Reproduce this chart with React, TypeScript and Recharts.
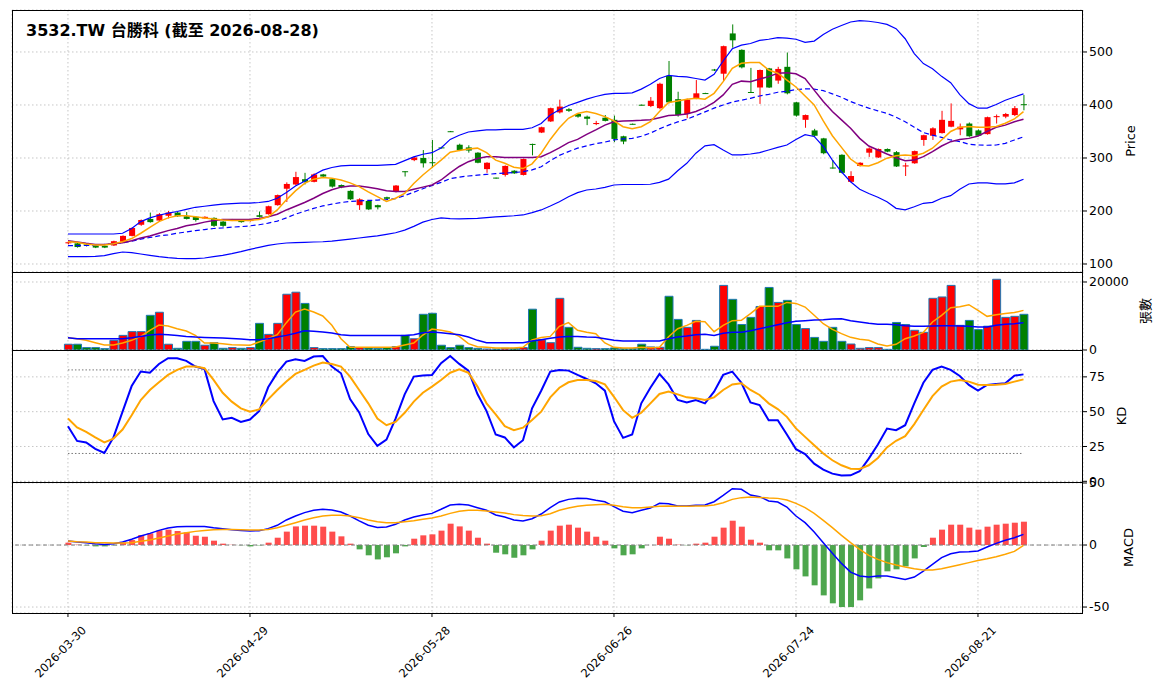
import React from "react"
import { Bar, Cell, CartesianGrid, ComposedChart, Line, ReferenceLine, XAxis, YAxis } from "recharts"

// trading days (TW calendar, holidays skipped)
const DATES = [
  "2026-03-30", "2026-03-31",
  "2026-04-01", "2026-04-02", "2026-04-07", "2026-04-08", "2026-04-09", "2026-04-10",
  "2026-04-13", "2026-04-14", "2026-04-15", "2026-04-16", "2026-04-17",
  "2026-04-20", "2026-04-21", "2026-04-22", "2026-04-23", "2026-04-24",
  "2026-04-27", "2026-04-28", "2026-04-29", "2026-04-30",
  "2026-05-04", "2026-05-05", "2026-05-06", "2026-05-07", "2026-05-08",
  "2026-05-11", "2026-05-12", "2026-05-13", "2026-05-14", "2026-05-15",
  "2026-05-18", "2026-05-19", "2026-05-20", "2026-05-21", "2026-05-22",
  "2026-05-25", "2026-05-26", "2026-05-27", "2026-05-28", "2026-05-29",
  "2026-06-01", "2026-06-02", "2026-06-03", "2026-06-04", "2026-06-05",
  "2026-06-08", "2026-06-09", "2026-06-10", "2026-06-11", "2026-06-12",
  "2026-06-15", "2026-06-16", "2026-06-17", "2026-06-18",
  "2026-06-22", "2026-06-23", "2026-06-24", "2026-06-25", "2026-06-26",
  "2026-06-29", "2026-06-30", "2026-07-01", "2026-07-02", "2026-07-03",
  "2026-07-06", "2026-07-07", "2026-07-08", "2026-07-09", "2026-07-10",
  "2026-07-13", "2026-07-14", "2026-07-15", "2026-07-16", "2026-07-17",
  "2026-07-20", "2026-07-21", "2026-07-22", "2026-07-23", "2026-07-24",
  "2026-07-27", "2026-07-28", "2026-07-29", "2026-07-30", "2026-07-31",
  "2026-08-03", "2026-08-04", "2026-08-05", "2026-08-06", "2026-08-07",
  "2026-08-10", "2026-08-11", "2026-08-12", "2026-08-13", "2026-08-14",
  "2026-08-17", "2026-08-18", "2026-08-19", "2026-08-20", "2026-08-21",
  "2026-08-24", "2026-08-25", "2026-08-26", "2026-08-27", "2026-08-28",
]

const OPEN = [
  139, 139, 137, 135, 134.5, 135, 142, 153, 174, 185,
  182, 191, 197, 190, 189, 186, 187, 180, 182, 183,
  181, 192, 194, 211, 242, 250, 260, 255, 269, 260,
  249, 238, 211, 219, 211, 226, 236, 275, 296, 300,
  292, 320, 350.5, 325, 320, 310, 279, 263, 268, 276,
  268, 326.5, 348, 369, 386, 392, 383, 378, 364, 376,
  372, 341, 364.5, 400.5, 398, 394, 455, 411, 383, 413,
  422.5, 467, 459, 535, 504, 424.5, 433, 469, 446, 472,
  405, 372, 352, 337, 282, 306, 255, 285, 310, 301,
  317, 311, 284, 290, 334, 342, 347, 359, 354, 365,
  352, 345, 377, 378, 381, 401.5,
]
const HIGH = [
  143, 140, 138, 136, 135, 144, 154, 169, 184, 197,
  196, 200, 198, 198, 190, 190, 188, 181, 185, 184,
  184, 199, 210, 231, 254, 274, 272, 271, 270, 261,
  250, 239, 224, 220, 212, 227, 249, 275, 303, 315,
  334, 321, 351, 327, 324, 311, 292, 263, 286, 277,
  299, 327, 359, 395, 410, 394, 384, 380, 370, 381,
  380, 342, 365, 401, 415, 442, 483, 425, 412, 447,
  423, 468, 512, 552, 505, 470, 467, 470, 472, 499,
  406, 382, 355, 338, 296, 307, 275, 292, 320, 318,
  318, 313, 291, 314, 344, 358, 389, 403, 365, 367,
  354, 378, 382, 385, 398, 419,
]
const LOW = [
  137, 131, 133, 130, 130, 134, 141, 152, 172, 178,
  180, 186, 189, 184, 180, 185, 170, 170, 181, 178,
  180, 188, 193, 210, 217, 248, 250, 254, 264, 244,
  243, 221, 202, 202, 203, 222, 235, 265, 294, 282,
  281, 318, 349, 313, 310, 290, 272, 261, 265, 270,
  267, 305, 347, 368, 384, 387, 376, 362, 362, 369,
  330, 326, 363, 399, 396, 392, 403, 378, 375, 411,
  421, 464, 445, 508, 469, 423, 402, 432, 440, 420,
  378, 357, 340, 307, 280, 271, 254, 284, 302, 300,
  311, 283, 266, 289, 323, 334, 346, 358, 343, 340,
  341, 344, 365, 375, 379, 390,
]
const CLOSE = [
  141, 132, 135, 131, 131, 143, 153, 168, 183, 179,
  194, 197, 190, 185, 183, 189, 172, 172, 184, 179,
  183, 189, 209, 230, 251, 264, 255, 269, 265, 246,
  245, 222, 222, 203, 207, 223, 248, 274, 301, 290,
  291, 319, 349.5, 315, 314, 291, 291, 262, 285, 271,
  298, 326, 358, 394, 397, 389, 378, 374, 366, 370,
  336, 331, 364, 400, 408, 440, 405, 381, 410, 422,
  422, 465, 511, 522, 471, 424, 466, 433, 468, 422,
  380, 381, 342, 309, 281, 272, 266, 291, 318, 317,
  312, 284, 286, 313, 343, 356, 372, 370, 359, 341,
  342, 377, 379, 383, 394, 400.5,
]

const MA5 = [
  142, 141, 137.7, 136, 136, 138, 142, 148, 158, 169,
  180, 187, 191, 191, 189, 187, 185, 183, 182, 182,
  182, 184, 189, 202, 221, 238, 252, 260, 263, 262,
  258.5, 253, 246, 236, 227, 218, 224, 233, 252, 268,
  282, 296, 311, 314, 317, 318.6, 310, 296, 290, 282.5,
  280, 289, 309, 335, 357, 375, 384, 387.6, 384, 378,
  370, 359, 355, 359, 368.5, 387.6, 404.7, 407.5, 410.7, 412.6,
  411, 422, 444, 469, 478.6, 480, 480, 466, 460, 447,
  434, 417, 400, 370, 342, 320, 298, 286, 285, 291,
  299.6, 304.4, 305.7, 304.4, 309, 318.5, 334, 350, 358, 359.6,
  358, 358, 359.6, 365.5, 373.6, 387.6,
]
const MA10 = [
  144, 141.5, 139, 137, 137, 138, 140, 144, 149, 153,
  158, 163, 167, 172, 175, 179, 182, 184, 184, 184,
  184, 186, 189, 194, 202, 209, 216, 224, 233, 240,
  245, 247, 247, 245, 242, 238, 237, 237, 241, 245,
  249, 258.5, 272, 284, 293, 299, 302.5, 302.5, 301, 301,
  301, 301, 302.5, 310, 319, 329, 335, 344.7, 353, 362,
  368.5, 370, 370.4, 371, 372, 376, 380, 381, 383, 387.6,
  395, 405, 419, 439, 445, 444, 449, 453.5, 460, 461,
  459, 450, 428, 406.6, 387.6, 372, 356, 337, 322.6, 315,
  307.5, 300.6, 295, 296, 302.5, 312, 322.6, 330.8, 335, 337,
  341.5, 350, 358, 362, 368.5, 373,
]
const BB_MID = [
  134.5, 134.5, 135, 136, 137, 138.5, 140, 143, 147, 150,
  153, 155, 158, 160.5, 163, 165, 167, 168, 169.5, 170.5,
  172, 174, 177, 181, 187, 194, 199.5, 205, 209.5, 213,
  216, 218, 219, 220, 220.5, 221.5, 223.5, 229, 235.5, 242,
  248, 254, 261, 264, 266, 267.5, 269, 270.5, 271.5, 272.5,
  274, 277.5, 283.5, 295, 305, 312, 318.6, 323, 327, 330,
  334, 336, 337, 341, 347, 355, 362, 368, 373, 380,
  387, 394, 400, 405.5, 409, 412.6, 417, 420, 424, 426,
  429, 430.5, 430, 427, 421, 414.5, 406.6, 400, 394, 389,
  384, 377, 368.5, 358, 348, 343, 339, 334, 331, 326,
  324.5, 324, 324.5, 327.7, 334, 340,
]
const BB_UP = [
  156.6, 156.6, 156.6, 156.6, 156.6, 156.6, 158, 167, 180, 187,
  192, 196, 199, 203, 207, 209, 211, 213, 214, 215,
  215, 216, 218, 224, 235, 247, 256, 268, 277, 282,
  285, 286, 286, 286, 286, 287, 288, 295, 302, 307,
  310, 319, 335, 343, 349, 351, 353, 353, 354, 354,
  354, 357, 365, 381, 391, 399, 405, 411, 416, 420,
  422, 422, 423, 430, 439, 450, 456, 454, 453, 450,
  447, 458, 483, 506, 513, 516, 522, 524, 527, 526,
  524, 518, 520.6, 533, 543, 550, 556.6, 559, 558, 555.6,
  552, 544, 525, 497, 478, 468.5, 454, 442, 419.5, 402.5,
  394, 394, 401, 409, 415, 421,
]
const BB_LOW = [
  113.8, 113.8, 113.8, 114.2, 115.7, 119.5, 122.6, 121.4, 118.9, 116.4,
  113.8, 112, 110.7, 110, 110, 111.3, 113.8, 116.4, 119.5, 123.3,
  127.7, 131.4, 135.2, 137.7, 139.6, 140.2, 140.9, 141.5, 142, 143,
  145, 147, 149, 151, 153, 156, 159, 164, 171, 179,
  184, 187, 185.5, 185, 185.5, 186, 187.5, 189, 190, 191,
  192.5, 197, 202, 209.4, 217.5, 227, 234.7, 239.6, 241.5, 244.7,
  249, 250, 250, 250, 250.5, 254, 260, 276, 290, 309,
  323, 325, 315, 305.7, 305.7, 307.5, 310, 315, 320, 324.5,
  335, 344, 340.6, 321.7, 296, 274, 255, 241, 233, 226,
  217.5, 205, 202, 208, 214.5, 216.4, 224, 229, 241, 251,
  253, 253, 251, 251, 253, 260,
]

const VOLUME = [
  1700, 1700, 700, 700, 400, 2840, 4300, 5400, 5400, 10200,
  11100, 1700, 500, 2550, 2550, 1400, 2150, 500, 700, 500,
  700, 7840, 4600, 7840, 16400, 17000, 13700, 700, 400, 400,
  400, 1000, 700, 600, 500, 700, 1000, 4300, 3300, 10500,
  10800, 1400, 700, 1400, 700, 500, 300, 300, 500, 500,
  700, 12000, 3000, 2150, 15200, 6660, 800, 500, 400, 400,
  600, 400, 400, 1700, 900, 800, 15800, 9000, 6660, 8700,
  200, 1100, 19000, 14900, 7500, 9600, 12800, 18400, 14000, 14600,
  7500, 6300, 3700, 2550, 6660, 2550, 1760, 500, 700, 700,
  200, 8100, 7500, 5800, 5200, 15200, 15600, 19000, 7250, 8700,
  6000, 7000, 20800, 9600, 9900, 10500,
]
const VOL_MA5 = [
  3600, 3300, 2840, 2160, 1470, 1470, 2060, 2840, 4000, 5800,
  7350, 7060, 6270, 5590, 4310, 2060, 2060, 1860, 1570, 1470,
  1370, 2350, 3330, 4500, 8040, 11170, 12050, 11170, 10000, 7250,
  3330, 780, 780, 780, 780, 780, 880, 1470, 2060, 4400,
  6170, 5780, 5300, 4000, 1860, 980, 780, 590, 590, 590,
  780, 2940, 3650, 4000, 6960, 8040, 5780, 5200, 4800, 2060,
  780, 590, 590, 780, 690, 780, 3900, 6270, 7250, 8430,
  8330, 5400, 7250, 8620, 8720, 10700, 12840, 12840, 12840, 14000,
  13700, 12640, 10200, 7740, 6080, 4800, 3720, 3140, 2840, 1760,
  1180, 1670, 3330, 4100, 5200, 8230, 10200, 12450, 12740, 13330,
  11660, 9900, 10400, 10700, 11000, 11660,
]
const VOL_MA20 = [
  3600, 3330, 3330, 3330, 3330, 3330, 3330, 3600, 4000, 4400,
  4600, 4500, 4300, 4000, 3800, 3700, 3600, 3500, 3400, 3230,
  3040, 3040, 3330, 3800, 4300, 4900, 5680, 5500, 5300, 5000,
  4500, 4300, 4300, 4300, 4300, 4300, 4300, 4300, 4500, 5100,
  5300, 5100, 4800, 4500, 3800, 2840, 2160, 2160, 2160, 2160,
  2160, 2650, 3040, 3430, 3800, 4000, 4000, 3800, 3720, 3330,
  2840, 2650, 2650, 2650, 2650, 2650, 3330, 3800, 4100, 4500,
  4600, 4300, 4900, 5200, 5200, 5680, 6270, 6860, 7450, 8040,
  8430, 8620, 8820, 8920, 9100, 9200, 8620, 8230, 7840, 7550,
  7550, 7450, 7150, 6960, 6960, 7060, 7150, 7150, 7060, 6960,
  6760, 6760, 7250, 7550, 7740, 8040,
]

const K_LINE = [
  39.6, 29, 27.9, 23.3, 20.4, 31.5, 50, 68.4, 78.8, 78,
  84.3, 88.4, 88.4, 86.5, 82.4, 80.7, 57.6, 44.4, 45.6, 42.7,
  44.4, 50.4, 67.5, 78, 86, 87.7, 86.5, 89.6, 90, 82.4,
  77.6, 59, 49.5, 33.9, 25.5, 30, 45, 62.4, 75.2, 75.9,
  76.4, 84.8, 90, 84.3, 79.5, 62.7, 50.4, 33.6, 31.5, 24.3,
  29.5, 52.4, 65, 78.8, 80, 79.5, 76.4, 73.5, 70.4, 65.1,
  43.2, 31.2, 33.6, 56, 67.2, 77.1, 69.6, 58.4, 56.7, 58.4,
  56, 64.4, 76.4, 78.8, 70.8, 56.7, 54.8, 43.9, 43.9, 33.6,
  23.1, 19.5, 12.7, 8.4, 5.5, 4.1, 4.3, 7.2, 16.3, 26.4,
  37.9, 36.7, 40.3, 56, 70.8, 80, 82.4, 80, 75.6, 69.2,
  65.1, 69.2, 69.9, 70.4, 75.9, 76.8,
]
const D_LINE = [
  45.1, 38.7, 35.5, 31.5, 27.9, 30.7, 37.2, 47.5, 58.4, 65.6,
  71.1, 76.4, 80, 82.4, 82.4, 81.2, 72.8, 63.6, 57.2, 52.4,
  50, 51.6, 58.8, 65.6, 71.6, 77.1, 80, 83.1, 85.3, 84.3,
  82.4, 75.2, 65.6, 56, 45.1, 40.3, 42.7, 49.2, 57.2, 63.6,
  68, 72.8, 78, 80.4, 78, 68, 56, 48, 39.6, 36.7,
  38.5, 44, 50, 60.3, 67.2, 71.1, 72.8, 72.8, 72, 69.6,
  60.7, 51.1, 45.6, 49.2, 56, 62.7, 64.4, 62.4, 60.3, 59.6,
  58.4, 60.3, 65.6, 69.6, 70.4, 65.6, 62, 56, 51.9, 46.3,
  38, 31.9, 25.9, 19.9, 15.1, 11.5, 9.1, 8.9, 11.5, 16.8,
  24.3, 29.1, 32.4, 41.1, 51.2, 61.2, 68, 71.6, 72.8, 71.6,
  69.4, 69.2, 69.4, 69.9, 71.6, 73.2,
]

const DIF = [
  3.2, 2.4, 1.9, 1.1, 0.5, 1.1, 2.4, 4.6, 7.3, 9.4,
  11.8, 13.7, 14.8, 15, 15, 15, 14, 13.2, 12.4, 11.8,
  11.3, 11.6, 13.2, 15.9, 20.2, 23.4, 26.1, 28, 28.8, 28.2,
  26.6, 23.4, 19.4, 15.9, 14.2, 14.5, 16.7, 20.2, 22.6, 24.2,
  25.5, 28.8, 32.3, 32.8, 32.3, 30.1, 28, 24.2, 22.6, 20.2,
  19.4, 21.2, 25, 30.1, 34.7, 36.8, 37.6, 37.4, 36, 34.9,
  30.9, 27.2, 26.1, 28, 29.8, 33.6, 33.3, 31.5, 31.5, 32,
  32.3, 34.9, 40, 45.4, 44.9, 40.3, 39, 35.5, 34.7, 30.6,
  23.4, 18, 10.5, 1.9, -6.7, -14.8, -21.8, -25, -25.8, -25,
  -25, -26.3, -27.7, -25.8, -21, -15.6, -10.2, -7, -5.6, -5.4,
  -4.8, -1.6, 1.3, 3.8, 5.9, 8.6,
]
const DEA = [
  3.2, 2.7, 2.4, 1.9, 1.9, 1.6, 1.6, 1.9, 3, 4,
  5.6, 7.3, 8.9, 9.9, 11, 11.8, 12.4, 12.6, 12.6, 12.4,
  12.1, 12.1, 12.6, 14, 15.9, 18, 20.2, 22, 23.4, 23.9,
  23.9, 23.4, 22, 20.2, 18.8, 18, 18, 18.8, 19.6, 20.7,
  21.8, 23.4, 25.5, 27.2, 28, 28, 27.4, 26.6, 25.8, 24.5,
  23.7, 23.4, 23.6, 25.2, 28, 29.8, 31.2, 32, 32.5, 32.8,
  32, 30.9, 30.1, 30.1, 30.6, 31.2, 31.5, 31.2, 31.2, 31.5,
  31.5, 32.3, 34.1, 36.8, 38.2, 38.7, 38.4, 37.9, 37.6, 36.3,
  33.6, 30.1, 25.5, 19.9, 14, 7.8, 1.9, -3.5, -8.3, -11.6,
  -14.2, -16.1, -17.7, -19.1, -20.2, -20.2, -19.1, -17.5, -15.9, -14.2,
  -12.4, -11, -9.4, -7.5, -5.1, -0.3,
]
const OSC = [
  1.9, 0.3, -0.3, -1.1, -1.1, -0.3, 1.9, 4, 8.1, 9.4,
  11.8, 12.4, 11.3, 10.2, 7.5, 6.7, 3.5, 1.1, 0.2, -0.2,
  -1.1, -0.3, 1.9, 5.9, 10.8, 15, 15.6, 15.6, 14.8, 10.8,
  7, 1.1, -3.5, -8.3, -11.6, -9.9, -6.7, -1.1, 5.1, 7.8,
  8.6, 11.6, 17.2, 15, 11.6, 5.9, 1.1, -6.2, -7.5, -10.2,
  -8.3, -3.5, 3.5, 11.6, 15.6, 16.4, 14, 10.8, 6.7, 3.5,
  -2.7, -8.3, -7.5, -2.7, 0, 6.7, 5.1, 0.3, -0.2, 1.1,
  1.9, 6.7, 14, 19.6, 14.8, 4.3, 1.9, -4.3, -4.3, -10.8,
  -19.6, -25.3, -32.5, -40.6, -47, -50, -50, -44.6, -35, -26.9,
  -21.2, -19.6, -17.2, -10.8, -1.6, 5.9, 12.4, 16.4, 16.4, 14,
  12.4, 14.8, 16.4, 17.2, 18, 18.8,
]

const X_TICKS = [0, 20, 40, 60, 80, 100]
const PRICE_TICKS = [100, 200, 300, 400, 500]
const VOL_TICKS = [0, 20000]
const KD_TICKS = [0, 25, 50, 75]
const MACD_TICKS = [-50, 0, 50]

const FONT = "'DejaVu Sans', 'Noto Sans CJK TC', sans-serif"
const RED = "#ff0000"
const GREEN = "#008000"
const X_DOMAIN: [number, number] = [-6.15, 111.54]
// 10px of slack above/below each panel so edge tick labels are not clipped
const PAD = 10
const MARGIN = { top: PAD, right: 21, bottom: PAD, left: 12 }
const MARGIN_BOTTOM = { top: PAD, right: 21, bottom: 0, left: 12 }

const rows = DATES.map((date, i) => ({
  idx: i,
  date,
  o: OPEN[i],
  h: HIGH[i],
  l: LOW[i],
  c: CLOSE[i],
  ma5: MA5[i],
  ma10: MA10[i],
  mid: BB_MID[i],
  up: BB_UP[i],
  lo: BB_LOW[i],
  vol: VOLUME[i],
  vma5: VOL_MA5[i],
  vma20: VOL_MA20[i],
  k: K_LINE[i],
  d: D_LINE[i],
  dif: DIF[i],
  dea: DEA[i],
  osc: OSC[i],
}))

const isUp = (r: any) => r.c >= r.o

const Candle = (props: any) => {
  const { x, y, width, height, payload } = props
  if (x == null || payload == null) return null
  const top = Math.min(y, y + height)
  const span = Math.abs(height)
  const range = payload.h - payload.l || 1
  const yOf = (v: number) => top + ((payload.h - v) / range) * span
  const color = isUp(payload) ? RED : GREEN
  const bodyTop = yOf(Math.max(payload.o, payload.c))
  const bodyBot = yOf(Math.min(payload.o, payload.c))
  const cx = x + width / 2
  return (
    <g>
      <line x1={cx} x2={cx} y1={top} y2={top + span} stroke={color} strokeWidth={1} />
      <rect x={x} y={bodyTop} width={width} height={Math.max(bodyBot - bodyTop, 1)} fill={color} />
    </g>
  )
}

const DateTick = (props: any) => {
  const { x, y, payload } = props
  return (
    <g transform={`translate(${x},${y})`}>
      <text x={0} y={0} textAnchor="end" transform="translate(19,12) rotate(-45)" fontSize={11.5} fontFamily={FONT} fill="#000">
        {DATES[payload.value]}
      </text>
    </g>
  )
}

const tickStyle = { fill: "#000", fontSize: 12.5, fontFamily: FONT }
const grid = <CartesianGrid stroke="#b8b8b8" strokeDasharray="1.5 2.5" strokeWidth={0.8} />

const axisLabel = (value: string, dx: number) => ({
  value,
  angle: -90,
  position: "center" as const,
  dx,
  style: { fill: "#000", fontSize: 13, fontFamily: FONT },
})

const frame = (top: number, height: number) => (
  <div
    style={{
      position: "absolute",
      left: 12,
      top,
      width: 1071,
      height: height,
      border: "1px solid #000",
      boxSizing: "border-box",
      pointerEvents: "none",
    }}
  />
)

export default function App() {
  return (
    <div style={{ position: "absolute", left: 0, top: 0, width: 1164, height: 698, background: "#fff", fontFamily: FONT }}>
      <div style={{ position: "absolute", top: 10 - PAD }}>
        <ComposedChart width={1164} height={262 + 2 * PAD} data={rows} margin={MARGIN}>
          {grid}
          <XAxis dataKey="idx" type="number" domain={X_DOMAIN} ticks={X_TICKS} allowDataOverflow hide />
          <YAxis
            orientation="right"
            width={60}
            type="number"
            domain={[84.9, 579.2]}
            ticks={PRICE_TICKS}
            interval={0}
            allowDataOverflow
            axisLine={false}
            tickSize={4}
            tickLine={{ stroke: "#000" }}
            tick={tickStyle}
            label={axisLabel("Price", 17)}
          />
          <Line dataKey="up" stroke="#0000ff" strokeWidth={1.2} dot={false} isAnimationActive={false} />
          <Line dataKey="lo" stroke="#0000ff" strokeWidth={1.2} dot={false} isAnimationActive={false} />
          <Line dataKey="mid" stroke="#0000ff" strokeWidth={1.2} strokeDasharray="5 3" dot={false} isAnimationActive={false} />
          <Line dataKey="ma10" stroke="#800080" strokeWidth={1.5} dot={false} isAnimationActive={false} />
          <Line dataKey="ma5" stroke="#ffa500" strokeWidth={1.5} dot={false} isAnimationActive={false} />
          <Bar dataKey={(r: any) => [r.l, r.h]} barSize={6} shape={Candle} isAnimationActive={false} />
        </ComposedChart>
      </div>

      <div style={{ position: "absolute", top: 272 - PAD }}>
        <ComposedChart width={1164} height={78 + 2 * PAD} data={rows} margin={MARGIN}>
          {grid}
          <XAxis dataKey="idx" type="number" domain={X_DOMAIN} ticks={X_TICKS} allowDataOverflow hide />
          <YAxis
            orientation="right"
            width={60}
            type="number"
            domain={[0, 22941]}
            ticks={VOL_TICKS}
            interval={0}
            allowDataOverflow
            axisLine={false}
            tickSize={4}
            tickLine={{ stroke: "#000" }}
            tick={tickStyle}
            label={axisLabel("張數", 32)}
          />
          <Bar dataKey="vol" barSize={8} stroke="#1f77b4" strokeWidth={1} isAnimationActive={false}>
            {rows.map((r) => (
              <Cell key={r.idx} fill={isUp(r) ? RED : GREEN} />
            ))}
          </Bar>
          <Line dataKey="vma5" stroke="#ffa500" strokeWidth={1.5} dot={false} isAnimationActive={false} />
          <Line dataKey="vma20" stroke="#0000ff" strokeWidth={1.5} dot={false} isAnimationActive={false} />
        </ComposedChart>
      </div>

      <div style={{ position: "absolute", top: 350 - PAD }}>
        <ComposedChart width={1164} height={132 + 2 * PAD} data={rows} margin={MARGIN}>
          {grid}
          <XAxis dataKey="idx" type="number" domain={X_DOMAIN} ticks={X_TICKS} allowDataOverflow hide />
          <YAxis
            orientation="right"
            width={60}
            type="number"
            domain={[-0.5, 94.3]}
            ticks={KD_TICKS}
            interval={0}
            allowDataOverflow
            axisLine={false}
            tickSize={4}
            tickLine={{ stroke: "#000" }}
            tick={tickStyle}
            label={axisLabel("KD", 8.5)}
          />
          <ReferenceLine segment={[{ x: 0, y: 80 }, { x: 105, y: 80 }]} stroke="#777" strokeDasharray="1.5 2" />
          <ReferenceLine segment={[{ x: 0, y: 20 }, { x: 105, y: 20 }]} stroke="#777" strokeDasharray="1.5 2" />
          <Line dataKey="k" stroke="#0000ff" strokeWidth={2} dot={false} isAnimationActive={false} />
          <Line dataKey="d" stroke="#ffa500" strokeWidth={2} dot={false} isAnimationActive={false} />
        </ComposedChart>
      </div>

      <div style={{ position: "absolute", top: 482 - PAD }}>
        <ComposedChart width={1164} height={131 + 85 + PAD} data={rows} margin={MARGIN_BOTTOM}>
          {grid}
          <XAxis
            dataKey="idx"
            type="number"
            domain={X_DOMAIN}
            ticks={X_TICKS}
            interval={0}
            allowDataOverflow
            height={85}
            axisLine={false}
            tickSize={4}
            tickLine={{ stroke: "#000" }}
            tick={<DateTick />}
          />
          <YAxis
            orientation="right"
            width={60}
            type="number"
            domain={[-54.8, 50.8]}
            ticks={MACD_TICKS}
            interval={0}
            allowDataOverflow
            axisLine={false}
            tickSize={4}
            tickLine={{ stroke: "#000" }}
            tick={tickStyle}
            label={axisLabel("MACD", 15)}
          />
          <ReferenceLine y={0} stroke="#808080" strokeDasharray="4 3" />
          <Bar dataKey="osc" barSize={6} isAnimationActive={false}>
            {rows.map((r) => (
              <Cell key={r.idx} fill={r.osc >= 0 ? "#ff4d4d" : "#4da64d"} />
            ))}
          </Bar>
          <Line dataKey="dif" stroke="#0000ff" strokeWidth={1.5} dot={false} isAnimationActive={false} />
          <Line dataKey="dea" stroke="#ffa500" strokeWidth={1.5} dot={false} isAnimationActive={false} />
        </ComposedChart>
      </div>

      {frame(10, 263)}
      {frame(272, 79)}
      {frame(350, 133)}
      {frame(482, 132)}

      <div style={{ position: "absolute", left: 26, top: 20, fontSize: 16, fontWeight: "bold", lineHeight: "22px", whiteSpace: "nowrap" }}>
        3532.TW 台勝科 (截至 2026-08-28)
      </div>
    </div>
  )
}
